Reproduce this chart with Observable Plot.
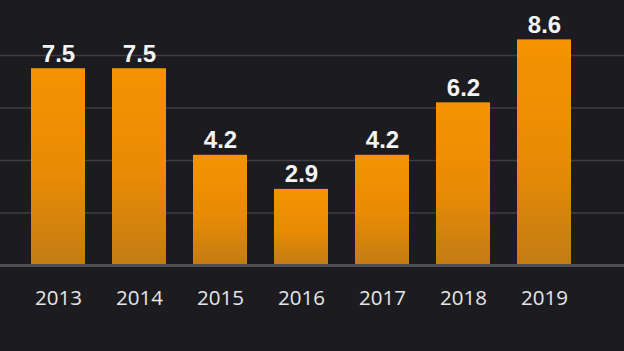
<!DOCTYPE html>
<html>
<head>
<meta charset="utf-8">
<script src="https://cdn.jsdelivr.net/npm/d3@7"></script>
<script src="https://cdn.jsdelivr.net/npm/@observablehq/plot@0.6"></script>
<style>
  html, body { margin: 0; padding: 0; background: #1c1c20; }
  #chart { width: 624px; height: 351px; overflow: hidden; }
</style>
</head>
<body>
<div id="chart"></div>
<script>
const years = ["2013", "2014", "2015", "2016", "2017", "2018", "2019"];
const values = [7.5, 7.5, 4.2, 2.9, 4.2, 6.2, 8.6];
const gridTicks = [2, 4, 6, 8];

const data = years.map((year, i) => ({year, value: values[i]}));

const plot = Plot.plot({
  width: 624,
  height: 351,
  marginTop: 0,
  marginBottom: 86,
  marginLeft: 0,
  marginRight: 0,
  style: {background: "#1c1c20", overflow: "visible"},
  x: {domain: years, padding: 0.335, range: [3, 598], axis: null},
  y: {domain: [0, 10.1], axis: null},
  marks: [
    Plot.ruleY(gridTicks, {stroke: "#3c3c42", strokeWidth: 1.5}),
    Plot.barY(data, {x: "year", y: "value", fill: "url(#barGrad)"}),
    Plot.ruleY([0], {stroke: "#4d4d53", strokeWidth: 3}),
    Plot.text(data, {
      x: "year", y: "value", text: d => d.value.toFixed(1),
      dy: -7, lineAnchor: "bottom",
      fill: "#f4f4f4", fontSize: 24, fontWeight: "bold",
      fontFamily: "Liberation Sans, Arial, sans-serif",
      style: "letter-spacing: 0.5px"
    }),
    Plot.text(data, {
      x: "year", y: 0, text: "year",
      dy: 33, lineAnchor: "middle",
      fill: "#e6e6e6", fontSize: 20.5,
      fontFamily: "Open Sans, sans-serif"
    })
  ]
});

const defs = d3.select(plot).insert("defs", ":first-child");
const grad = defs.append("linearGradient")
  .attr("id", "barGrad")
  .attr("x1", 0).attr("y1", 0).attr("x2", 0).attr("y2", 1);
grad.append("stop").attr("offset", "0%").attr("stop-color", "#f59300");
grad.append("stop").attr("offset", "55%").attr("stop-color", "#e88b05");
grad.append("stop").attr("offset", "100%").attr("stop-color", "#c27c14");

document.getElementById("chart").appendChild(plot);
</script>
</body>
</html>
